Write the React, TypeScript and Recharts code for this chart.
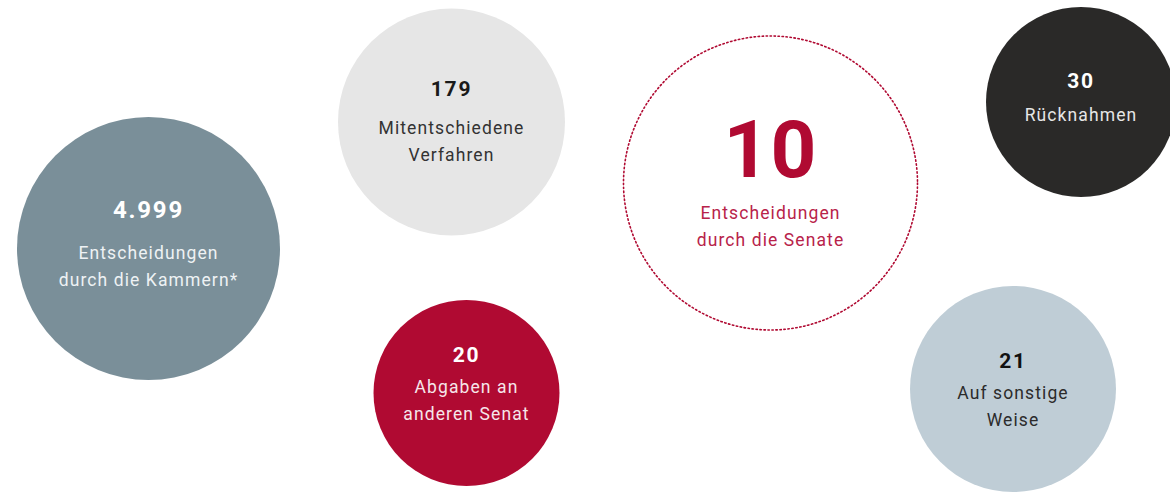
import { ScatterChart, Scatter, XAxis, YAxis } from "recharts";

// values and labels
const values = ["4.999", "179", "10", "30", "20", "21"];
const labels = [
  ["Entscheidungen", "durch die Kammern*"],
  ["Mitentschiedene", "Verfahren"],
  ["Entscheidungen", "durch die Senate"],
  ["Rücknahmen"],
  ["Abgaben an", "anderen Senat"],
  ["Auf sonstige", "Weise"],
];

// bubble layout (chart pixel units), kept apart from the values
const layout = [
  { x: 148.5, y: 248.5, r: 131.5, numDy: -38.5, firstDy: 43, numSize: 24 },
  { x: 451.5, y: 122, r: 113.5, numDy: -33, firstDy: 39, numSize: 21 },
  { x: 770.5, y: 183, r: 147, numDy: -33, firstDy: 63, numSize: 80 },
  { x: 1081, y: 102, r: 95, numDy: -21, firstDy: 34, numSize: 21 },
  { x: 466.5, y: 393, r: 93, numDy: -38, firstDy: 32, numSize: 21 },
  { x: 1013, y: 389, r: 103, numDy: -28, firstDy: 32, numSize: 21 },
];

const styles = [
  { fill: "#7a8f99", stroke: "none", num: "#ffffff", text: "#eef2f4" },
  { fill: "#e6e6e6", stroke: "none", num: "#1a1a1a", text: "#333333" },
  { fill: "none", stroke: "#b00a32", num: "#b00a32", text: "#b8234a" },
  { fill: "#2a2928", stroke: "none", num: "#ffffff", text: "#e6e6e6" },
  { fill: "#b00a32", stroke: "none", num: "#ffffff", text: "#f6e6ea" },
  { fill: "#bfcdd6", stroke: "none", num: "#111111", text: "#2b2b2b" },
];

const data = values.map((v, i) => ({
  value: v,
  lines: labels[i],
  ...layout[i],
  ...styles[i],
}));

const FONT = "Roboto, 'Noto Sans', sans-serif";

function Bubble(props: any) {
  const { cx, cy, payload } = props;
  const p = payload;
  const numY = cy + p.numDy;
  return (
    <g>
      {p.stroke !== "none" ? (
        <circle
          cx={cx}
          cy={cy}
          r={p.r}
          fill="none"
          stroke={p.stroke}
          strokeWidth={1.6}
          strokeDasharray="1.4 2.6"
          strokeLinecap="round"
        />
      ) : (
        <circle cx={cx} cy={cy} r={p.r} fill={p.fill} />
      )}
      <text
        x={cx}
        y={numY}
        textAnchor="middle"
        dominantBaseline="central"
        fontFamily={FONT}
        fontWeight={700}
        fontSize={p.numSize}
        letterSpacing={p.numSize > 40 ? 1 : 1.8}
        fill={p.num}
      >
        {p.value}
      </text>
      {p.lines.map((line: string, j: number) => (
        <text
          key={j}
          x={cx}
          y={numY + p.firstDy + j * 26.5}
          textAnchor="middle"
          dominantBaseline="central"
          fontFamily={FONT}
          fontSize={17.5}
          letterSpacing={1.1}
          fill={p.text}
        >
          {line}
        </text>
      ))}
    </g>
  );
}

export default function App() {
  return (
    <div style={{ position: "absolute", left: 0, top: 0, background: "#ffffff" }}>
      <ScatterChart width={1170} height={493} margin={{ top: 0, right: 0, bottom: 0, left: 0 }}>
        <XAxis type="number" dataKey="x" domain={[0, 1170]} hide />
        <YAxis type="number" dataKey="y" domain={[0, 493]} reversed hide />
        <Scatter data={data} shape={<Bubble />} isAnimationActive={false} />
      </ScatterChart>
    </div>
  );
}
